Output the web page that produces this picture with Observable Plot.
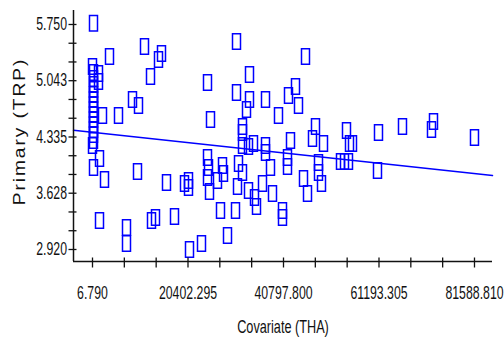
<!DOCTYPE html>
<html><head><meta charset="utf-8">
<script src="https://cdn.jsdelivr.net/npm/d3@7"></script>
<script src="https://cdn.jsdelivr.net/npm/@observablehq/plot@0.6"></script>
<style>body{margin:0;background:#fff;}</style>
</head><body><div id="chart"></div>
<script>
// Covariate (THA) values
const covariate = [
  220, 3637, 11112, 14743, 14102, 12394, 24567, 8550, 9831, 2143, 5560, 25208,
  30761, 45497, 33537, 30761, 33537, 36954, 41866, 43361, 44002, 39730, 32897, 32042,
  47633, 54253, 54893, 55534, 61087, 66212, 72833, 72406, 81589, 60873, 52972, 53826, 54680,
  7, 1288, 1288, 220, 220, 220, 220, 220, 220, 220, 220, 220, 220, 220, 220, 220, 220,
  7, 1502, 220, 2570, 1502,
  9617, 15811, 19655, 20510, 20510, 7268, 7268, 12607, 13462, 17520, 20723, 23286,
  24567, 24781, 24567, 24995,
  32042, 32042, 34391, 36954, 36954, 42293, 46992, 49341, 27771, 27985, 26703, 31188,
  32042, 30975, 33324, 34605, 35032, 36313, 38022, 38449, 41653, 41653, 45070, 45924,
  48273, 48273, 48914, 40585, 40585, 27344, 30547, 28839, 33324
];
// Primary (TRP) values
const primary = [
  5.766, 5.347, 5.473, 5.385, 5.310, 5.096, 5.020, 4.807, 4.731, 4.605, 4.605, 4.555,
  5.536, 5.347, 5.121, 4.895, 4.807, 4.807, 4.857, 4.970, 4.731, 4.605, 4.681, 4.467,
  4.467, 4.417, 4.253, 4.253, 4.392, 4.467, 4.530, 4.429, 4.329, 3.914, 4.027, 4.027, 4.027,
  5.222, 5.134, 5.033, 5.146, 5.071, 4.995, 4.932, 4.870, 4.807, 4.744, 4.681, 4.618, 4.555, 4.492, 4.429, 4.366, 4.291,
  4.228, 4.065, 3.951, 3.800, 3.285,
  3.901, 3.763, 3.750, 3.788, 3.700, 3.197, 2.995, 3.285, 3.322, 3.335, 2.920, 2.995,
  4.077, 3.951, 3.826, 3.650,
  4.392, 4.228, 4.253, 4.228, 4.140, 4.291, 4.316, 4.253, 3.977, 3.876, 3.788, 4.002,
  3.888, 3.712, 3.662, 3.574, 3.461, 3.750, 3.951, 3.624, 4.077, 3.964, 3.813, 3.624,
  4.014, 3.888, 3.750, 3.410, 3.322, 3.410, 3.410, 3.096, 4.215
];
// Fitted regression line end points
const fitX = [-4051, 85435];
const fitY = [4.42, 3.85];
// Axis tick labels
const xTickValues = [6.790, 20402.295, 40797.800, 61193.305, 81588.810];
const yTickValues = [2.920, 3.628, 4.335, 5.043, 5.750];
const xDomain = [-4051, 85435];
const yDomain = [2.769, 5.926];
const xLabel = "Covariate (THA)";
const yLabel = "Primary (TRP)";

const points = covariate.map((x, i) => ({x, y: primary[i]}));
const fit = fitX.map((x, i) => ({x, y: fitY[i]}));
const thirds = v => d3.pairs(v).flatMap(([a, b]) => [a + (b - a) / 3, a + 2 * (b - a) / 3]);
const xAllTicks = xTickValues.concat(thirds(xTickValues));
const yAllTicks = yTickValues.concat(thirds(yTickValues));
const fmt = d3.format(".3f");

const box = {draw(ctx) { ctx.rect(-4, -7.75, 8, 15.5); }};
const vTick = {draw(ctx) { ctx.moveTo(0, -4); ctx.lineTo(0, 6); }};
const hTick = {draw(ctx) { ctx.moveTo(-5, 0); ctx.lineTo(3, 0); }};
const blue = "#0000ff";

const svg = Plot.plot({
  width: 504, height: 344,
  marginLeft: 73, marginRight: 12, marginTop: 10, marginBottom: 83,
  x: {domain: xDomain, axis: null},
  y: {domain: yDomain, axis: null},
  style: {fontFamily: "'Liberation Sans', Arial, sans-serif", background: "#fff", color: "#111"},
  marks: [
    Plot.line(fit, {x: "x", y: "y", stroke: blue, strokeWidth: 1.5}),
    Plot.dot(points, {x: "x", y: "y", symbol: box, fill: "none", stroke: blue, strokeWidth: 1.5}),
    Plot.ruleY([yDomain[0]], {stroke: "#111", strokeWidth: 1.5}),
    Plot.ruleX([xDomain[0]], {stroke: "#111", strokeWidth: 1.5}),
    Plot.dot(xAllTicks, {x: d => d, y: () => yDomain[0], symbol: vTick, fill: "none", stroke: "#111", strokeWidth: 1.3}),
    Plot.dot(yAllTicks, {x: () => xDomain[0], y: d => d, symbol: hTick, fill: "none", stroke: "#111", strokeWidth: 1.3}),
    Plot.text(xTickValues, {x: d => d, y: () => yDomain[0], text: fmt, dy: 32, fontSize: 15, textAnchor: "middle"}),
    Plot.text(yTickValues, {x: () => xDomain[0], y: d => d, text: fmt, dx: -6.5, fontSize: 15, textAnchor: "end"}),
    Plot.text([xLabel], {frameAnchor: "bottom", dy: 71, fontSize: 15.5, textAnchor: "middle"}),
    Plot.text([yLabel], {frameAnchor: "left", dx: -54, dy: -4.5, rotate: -90, fontSize: 16, textAnchor: "middle"})
  ]
});

function stretch(t, sx, sy) {
  const pre = t.getAttribute("transform") || "";
  const xa = t.getAttribute("x"), ya = t.getAttribute("y");
  let tx = 0, ty = 0;
  if (xa && !/em$/.test(xa)) { tx = +xa; t.removeAttribute("x"); }
  if (ya && !/em$/.test(ya)) { ty = +ya; t.removeAttribute("y"); }
  t.setAttribute("transform", `${pre} translate(${tx},${ty}) scale(${sx},${sy})`);
}
const narrowTexts = new Set(xTickValues.map(fmt).concat(yTickValues.map(fmt), [xLabel]));
svg.querySelectorAll("text").forEach(t => {
  const s = t.textContent;
  if (narrowTexts.has(s)) stretch(t, 0.82, 1.2);
  else if (s === yLabel) { stretch(t, 1.2, 1); t.style.letterSpacing = "1.6px"; }
});
document.getElementById("chart").append(svg);
</script>
</body></html>
